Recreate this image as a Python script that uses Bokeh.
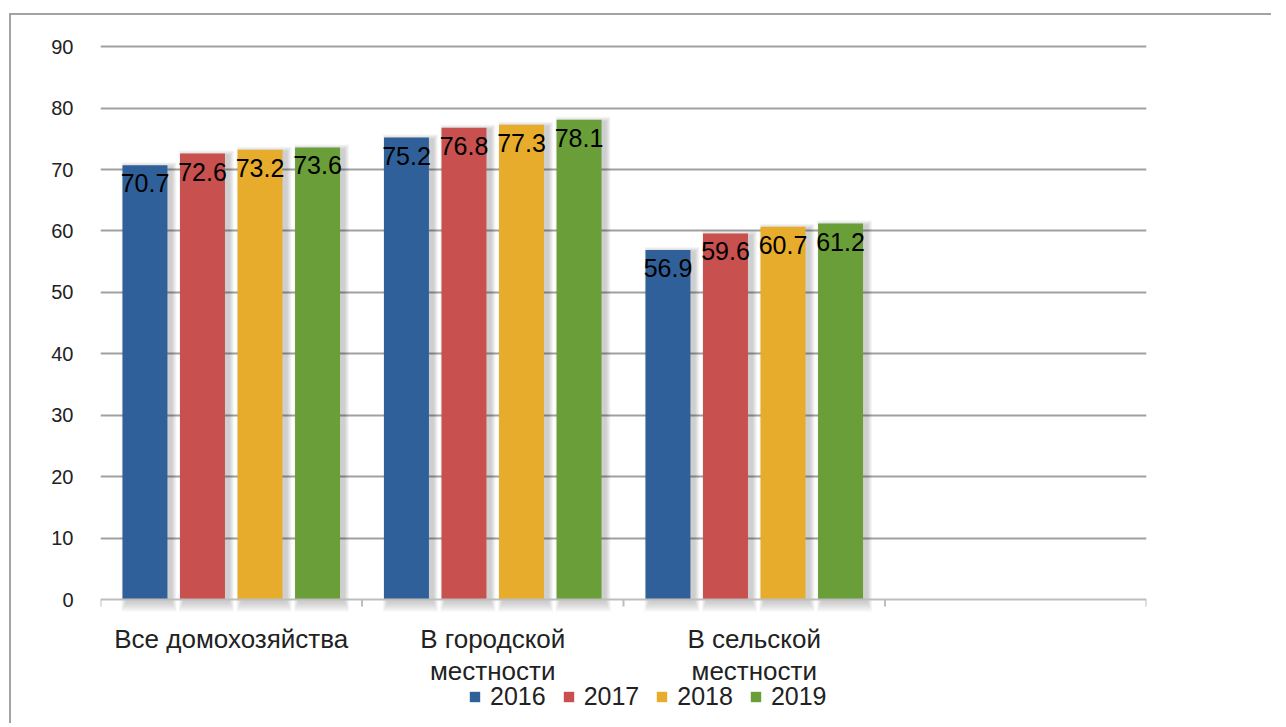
from bokeh.plotting import figure
from bokeh.models import FixedTicker, Range1d, Legend, LegendItem, ColumnDataSource, Span
from bokeh.core.properties import value
from bokeh.embed import file_html
from bokeh.resources import INLINE

categories = ["Все домохозяйства", "В городской\nместности", "В сельской\nместности"]
years = ["2016", "2017", "2018", "2019"]
v2016 = [70.7, 75.2, 56.9]
v2017 = [72.6, 76.8, 59.6]
v2018 = [73.2, 77.3, 60.7]
v2019 = [73.6, 78.1, 61.2]
series = [v2016, v2017, v2018, v2019]
colors = ["#30609A", "#C8504E", "#E8AC2C", "#6A9E38"]
y_ticks = [0, 10, 20, 30, 40, 50, 60, 70, 80, 90]
n_slots = 4  # the chart reserves an empty fourth category slot

FONT = "Liberation Sans"
W, H = 1262, 710
CANVAS_X, CANVAS_Y = 11, 15
FRAME_L, FRAME_R, FRAME_T, ZERO_Y, FRAME_B = 100, 1146, 40, 599, 720
Y_TOP = 91.0
ppu = (ZERO_Y - FRAME_T) / Y_TOP          # pixels per unit
y_start = -(FRAME_B - ZERO_Y) / ppu

p = figure(width=W, height=H, output_backend="svg", toolbar_location=None,
           x_range=Range1d(0, n_slots), y_range=Range1d(y_start, Y_TOP),
           min_border_left=FRAME_L - CANVAS_X, min_border_right=W - (FRAME_R - CANVAS_X),
           min_border_top=FRAME_T - CANVAS_Y, min_border_bottom=CANVAS_Y + H - FRAME_B)
p.margin = (13, 0, 0, 9)
p.styles = {"border-top": "2px solid #a3a3a3", "border-left": "2px solid #a3a3a3"}
p.outline_line_color = None
p.background_fill_color = "white"
p.border_fill_color = "white"

centers = [i + 0.5 for i in range(len(categories))]
step = 0.22
bw = 0.172
px = n_slots / float(FRAME_R - FRAME_L)   # one pixel in x data units
py = 1.0 / ppu                            # one pixel in y data units

# grid lines and axis line
p.xgrid.grid_line_color = None
p.ygrid.ticker = FixedTicker(ticks=y_ticks[1:])
p.ygrid.grid_line_color = "#a0a0a0"
p.ygrid.grid_line_width = 2

renderers = []
for i, (vals, col) in enumerate(zip(series, colors)):
    xs = [c + (i - 1.5) * step for c in centers]
    # soft shadow
    for k in range(1, 6):
        p.vbar(x=[x + 4 * px for x in xs], top=[v + (k - 2) * py for v in vals],
               bottom=-(2 + 2 * k) * py,
               width=bw + 2 * k * px, fill_color="#000000", fill_alpha=0.04, line_color=None)
    src = ColumnDataSource(dict(x=xs, top=vals))
    r = p.vbar(x="x", top="top", bottom=0, width=bw, source=src, fill_color=col, line_color=None)
    renderers.append(r)

p.add_layout(Span(location=0, dimension="width", line_color="#bdbdbd", line_width=2))
bounds = list(range(n_slots + 1))
p.segment(x0=bounds, x1=bounds, y0=[0] * len(bounds), y1=[-7 * py] * len(bounds),
          line_color="#bdbdbd", line_width=2)

for i, (vals, col) in enumerate(zip(series, colors)):
    xs = [c + (i - 1.5) * step for c in centers]
    src = ColumnDataSource(dict(x=xs, y=vals, lab=[f"{v:.1f}" for v in vals]))
    p.text(x="x", y="y", text="lab", source=src, text_align="center", text_baseline="middle",
           y_offset=18, text_font=value(FONT), text_font_size="25px", text_color="#000000")

# category labels
p.text(x=centers, y=[0] * len(centers), text=categories, text_align="center",
       text_baseline="top", y_offset=24, text_line_height=1.08,
       text_font=value(FONT), text_font_size="26px", text_color="#222222")

# y axis
p.yaxis.ticker = FixedTicker(ticks=y_ticks)
p.yaxis.axis_line_color = None
p.yaxis.major_tick_line_color = None
p.yaxis.minor_tick_line_color = None
p.yaxis.major_label_text_font = FONT
p.yaxis.major_label_text_font_size = "20px"
p.yaxis.major_label_text_color = "#222222"
p.yaxis.major_label_standoff = 21
p.xaxis.visible = False

legend = Legend(items=[LegendItem(label=y, renderers=[r]) for y, r in zip(years, renderers)],
                location=(368, 9), orientation="horizontal")
legend.glyph_width = 13
legend.glyph_height = 13
legend.label_standoff = 9
legend.spacing = 16
legend.padding = 0
legend.margin = 0
legend.border_line_color = None
legend.background_fill_alpha = 0
legend.label_text_font = FONT
legend.label_text_font_size = "25px"
legend.label_text_color = "#222222"
p.add_layout(legend)

open("out.html", "w").write(file_html(p, INLINE))
